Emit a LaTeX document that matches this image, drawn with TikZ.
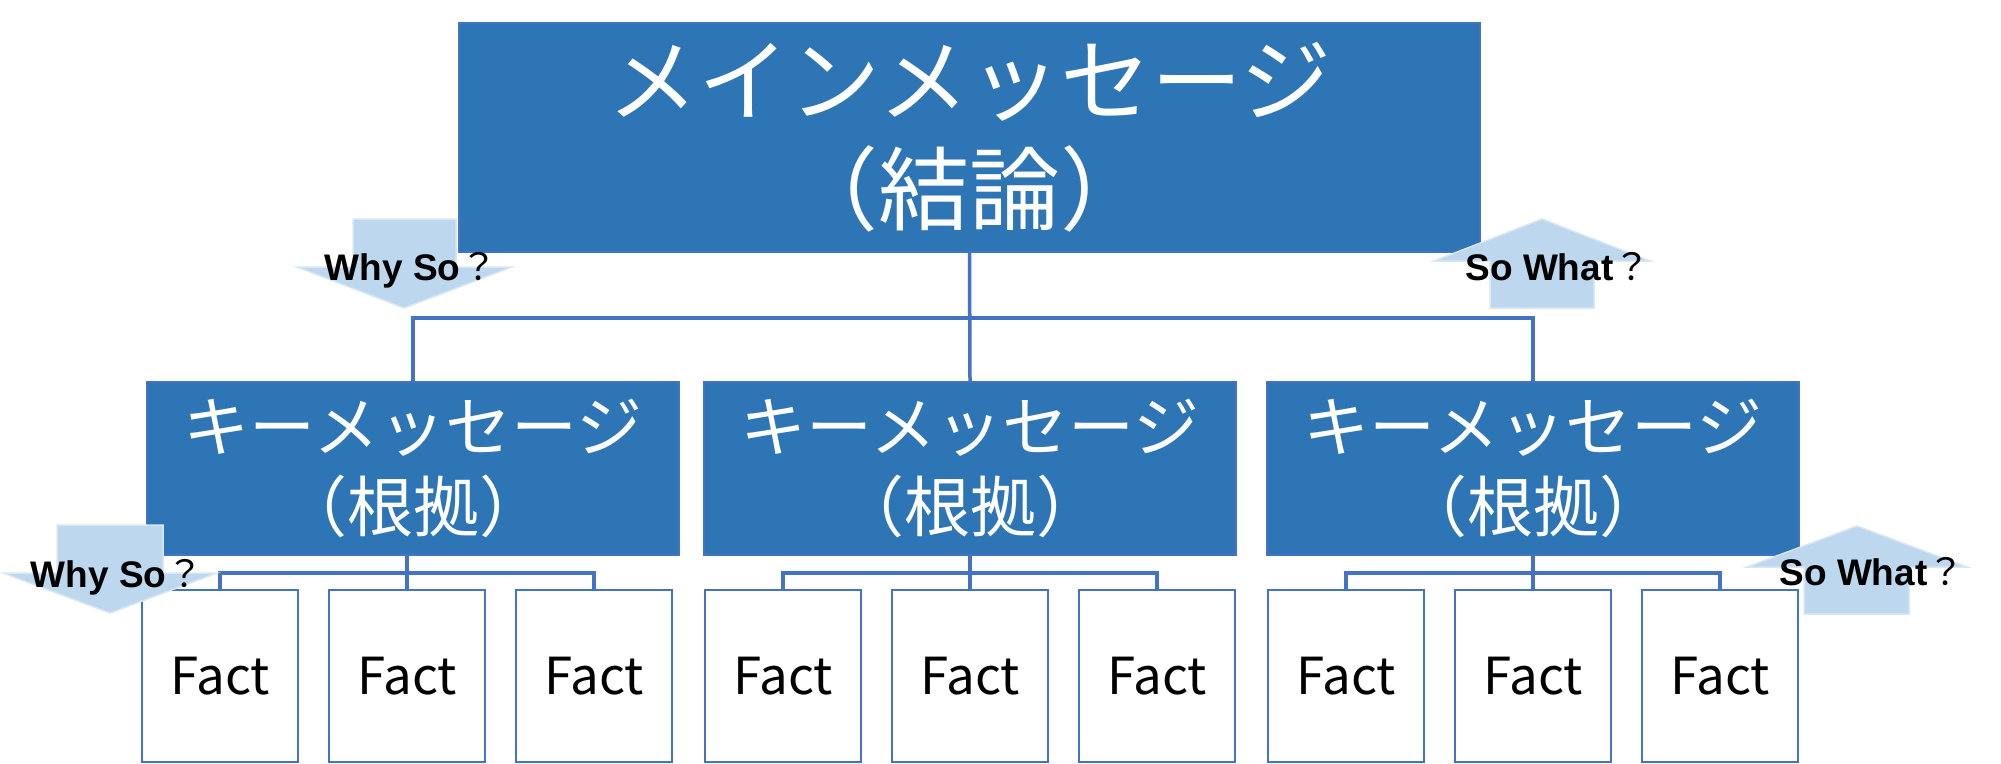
\documentclass[tikz,border=0pt]{standalone}
\usepackage{fontspec}
\setmainfont{Liberation Sans}
\newfontfamily\jp{Noto Sans CJK JP}
\definecolor{mainblue}{HTML}{2E75B6}
\definecolor{lineblue}{HTML}{4472C4}
\definecolor{arrowfill}{HTML}{BDD7EE}
\definecolor{arrowedge}{HTML}{D9E6F4}
\begin{document}
\begin{tikzpicture}[x=1pt,y=-1pt,
  bluebox/.style={draw=lineblue, line width=2pt, fill=mainblue, text=white, inner sep=0pt, align=center},
  mainbox/.style={bluebox, minimum width=1021pt, minimum height=229pt, font=\jp\fontsize{91}{109}\selectfont},
  keybox/.style={bluebox, minimum width=532pt, minimum height=173pt, font=\jp\fontsize{66}{80}\selectfont},
  factbox/.style={draw=lineblue, line width=2pt, fill=white, text=black, minimum width=156pt, minimum height=172pt, inner sep=0pt, font=\jp\fontsize{51}{60}\selectfont},
  link/.style={draw=lineblue, line width=3.5pt},
  bigarrow/.style={fill=arrowfill, draw=arrowedge, line width=1.5pt, line join=miter},
  qlabel/.style={font=\bfseries\fontsize{37}{40}\selectfont, inner sep=0pt, anchor=base, text=black}]
\path[use as bounding box, fill=white] (0,0) rectangle (2001,763);
% boxes
\node[mainbox] (main) at (969.5,137.5) {メインメッセージ\\（結論）};
\node[keybox] (k1) at (413,468.5) {キーメッセージ\\（根拠）};
\node[keybox] (k2) at (970,468.5) {キーメッセージ\\（根拠）};
\node[keybox] (k3) at (1533,468.5) {キーメッセージ\\（根拠）};
\node[factbox] (f1) at (220,676) {Fact};
\node[factbox] (f2) at (407,676) {Fact};
\node[factbox] (f3) at (594,676) {Fact};
\node[factbox] (f4) at (783,676) {Fact};
\node[factbox] (f5) at (970,676) {Fact};
\node[factbox] (f6) at (1157,676) {Fact};
\node[factbox] (f7) at (1346,676) {Fact};
\node[factbox] (f8) at (1533,676) {Fact};
\node[factbox] (f9) at (1720,676) {Fact};
% connectors
\coordinate (bus) at (969,318);
\coordinate (b1) at (407,573);
\coordinate (b2) at (970,573);
\coordinate (b3) at (1533,573);
\draw[link] (main.south) -- (k2.north);
\draw[link] (k1.north) |- (bus) -| (k3.north);
\draw[link] (f2.north |- k1.south) -- (f2.north);
\draw[link] (f1.north) |- (b1) -| (f3.north);
\draw[link] (k2.south) -- (f5.north);
\draw[link] (f4.north) |- (b2) -| (f6.north);
\draw[link] (k3.south) -- (f8.north);
\draw[link] (f7.north) |- (b3) -| (f9.north);
% arrows
\draw[bigarrow] (353,219) -- (456,219) -- (456,267) -- (512,267) -- (404,308) -- (297,267) -- (353,267) -- cycle;
\draw[bigarrow] (1542,219) -- (1650,261) -- (1594,261) -- (1594,308) -- (1490,308) -- (1490,261) -- (1434,261) -- cycle;
\draw[bigarrow] (57,525) -- (163,525) -- (163,573) -- (217,573) -- (110,613) -- (3,573) -- (57,573) -- cycle;
\draw[bigarrow] (1857,526) -- (1967,567) -- (1909,567) -- (1909,614) -- (1804,614) -- (1804,567) -- (1747,567) -- cycle;
% labels
\node[qlabel] (q1) at (411,280) {Why So{\jp\mdseries ？}};
\node[qlabel] (q2) at (1558,280) {So What{\jp\mdseries ？}};
\node[qlabel] (q3) at (117,587) {Why So{\jp\mdseries ？}};
\node[qlabel] (q4) at (1872,585) {So What{\jp\mdseries ？}};
\end{tikzpicture}
\end{document}
